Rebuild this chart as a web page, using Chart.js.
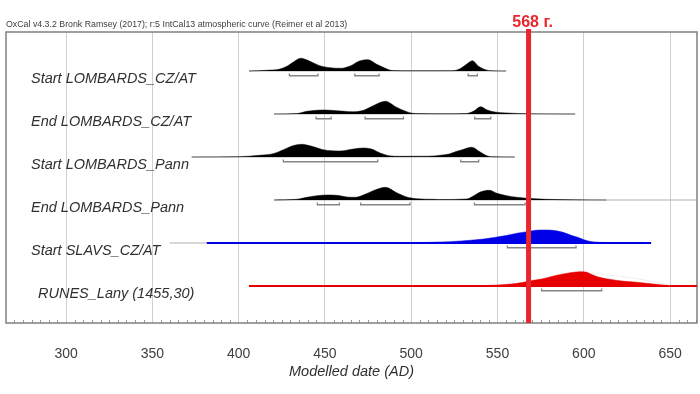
<!DOCTYPE html>
<html>
<head>
<meta charset="utf-8">
<script src="https://cdn.jsdelivr.net/npm/chart.js@4.4.1/dist/chart.umd.min.js"></script>
<style>
  html, body { margin: 0; padding: 0; background: #fff; }
  #wrap { width: 700px; height: 394px; }
</style>
</head>
<body>
<div id="wrap"><canvas id="chart" width="700" height="394"></canvas></div>
<script>
// OxCal multiplot of the modelled dates, with the 568 marker

const HEADER = 'OxCal v4.3.2 Bronk Ramsey (2017); r:5 IntCal13 atmospheric curve (Reimer et al 2013)';
const X_TITLE = 'Modelled date (AD)';
const X_TICKS = [300, 350, 400, 450, 500, 550, 600, 650];
const MARKER_YEAR = 568;
const MARKER_LABEL = '568 г.';

const ROW_LABELS = [
    'Start LOMBARDS_CZ/AT',
    'End LOMBARDS_CZ/AT',
    'Start LOMBARDS_Pann',
    'End LOMBARDS_Pann',
    'Start SLAVS_CZ/AT',
    'RUNES_Lany (1455,30)'
];

// Start LOMBARDS_CZ/AT
const startCzSpan = [406, 555];
const startCzYears = [406, 416, 424, 428, 432, 436, 441, 447, 453, 459, 465, 470, 475, 480, 485, 489, 500, 524, 528, 532, 535.5, 539, 543, 546, 555];
const startCzDensity = [0, 0.7, 2, 4.7, 9.3, 12.7, 10, 5.3, 3.3, 2.7, 5.3, 10, 11.3, 6.7, 2.7, 0.5, 0.2, 0.3, 2, 6.7, 10.3, 4.7, 1.3, 0.3, 0];
const startCzRanges = [[429.4, 446], [467.3, 481.4], [533, 538.3]];

// End LOMBARDS_CZ/AT
const endCzSpan = [420.5, 595];
const endCzYears = [420.5, 434, 439.5, 445, 450, 457, 466, 472, 478, 485, 491.5, 497.5, 502, 520, 532, 536, 540.3, 544, 548.5, 555.5, 567, 580, 595];
const endCzDensity = [0, 0.5, 2.7, 3.7, 4, 3.3, 2.3, 3.5, 8.3, 12.7, 6.7, 2.3, 0.5, 0.2, 0.5, 2.7, 7.3, 4, 2, 1, 0.3, 0.1, 0];
const endCzRanges = [[444.9, 453.6], [473.3, 495.5], [536.8, 546.1]];

// Start LOMBARDS_Pann
const startPannSpan = [372.8, 560];
const startPannYears = [372.8, 400, 412, 420, 426, 431, 436.6, 442.4, 449, 458.8, 466.5, 472.3, 477, 482, 487, 493.5, 510, 517, 522, 526, 530, 535, 540, 544.7, 548, 560];
const startPannDensity = [0, 0.3, 1.7, 3.3, 7.3, 11, 12.7, 10.7, 7.3, 6, 8, 9, 8, 4, 1.3, 0.7, 0.8, 1.8, 3, 5.5, 7.5, 9.8, 5, 0.7, 0.2, 0];
const startPannRanges = [[425.9, 480.6], [528.7, 539.1]];

// End LOMBARDS_Pann
const endPannSpan = [420.5, 666];
const endPannYears = [420.5, 433.7, 439.5, 445.3, 451, 456.8, 462.6, 467.5, 473.3, 479, 485, 491.6, 497.4, 503.2, 513, 517, 532, 536, 540, 545.3, 549.6, 555.4, 561.2, 567, 578.6, 594, 613];
const endPannDensity = [0, 0.7, 2.7, 4.3, 5, 4.7, 3, 2.7, 5.7, 10, 12.7, 7.3, 3, 1.3, 0.7, 0.5, 1, 4, 8, 9.7, 6.7, 4.3, 2.7, 1.7, 0.7, 0.2, 0];
const endPannRanges = [[445.6, 458.4], [470.7, 499.3], [536.6, 566]];

// Start SLAVS_CZ/AT
const slavsLead = [360, 381.5];
const slavsSpan = [381.5, 639];
const slavsYears = [460, 500, 522, 536, 542, 548, 555, 562, 567, 572, 577, 583, 588, 593, 596, 600, 604, 608, 615, 625];
const slavsDensity = [0, 0.4, 1.3, 3, 4, 5.5, 7.5, 10, 11.3, 12.7, 13, 12.5, 10.7, 7.5, 6, 3.3, 1.5, 0.8, 0.3, 0];
const slavsRanges = [[555.7, 595.5]];

// RUNES_Lany (1455,30)
const runesSpan = [406, 666];
const runesYears = [530, 540, 550, 558, 565, 570, 575.6, 582, 588, 593, 598, 601, 604, 607.5, 611, 615, 622, 629, 636, 642, 650, 656];
const runesDensity = [0, 0.3, 1, 2, 3.7, 5.5, 7, 9.8, 12, 13.5, 14.3, 14, 12, 9.5, 8, 6.7, 5, 4, 2.8, 1.7, 0.3, 0];
const runesOutlineYears = [601, 606, 612, 620, 630, 640, 650];
const runesOutlineDensity = [14, 12.5, 11.5, 10, 7.5, 4.5, 0.7];
const runesRanges = [[575.6, 610.4]];

// どの行も同じ高さ(px)で描く
const PX_PER_ROW = 43;
const X_MIN = 265.2;
const X_MAX = 665.6;
const Y_MIN = 0.093;
const Y_MAX = 6.86;

const BLACK = '#000000';
const BLUE = '#0000e6';
const RED = '#e60000';
const MARKER_RED = '#e8262b';
const GREY_LINE = '#b0b0b0';
const RANGE_GREY = '#858585';
const FONT = '"Liberation Sans", Arial, sans-serif';

function spanDataset(row, span, color, width) {
    return {
        data: [{ x: span[0], y: row }, { x: span[1], y: row }],
        borderColor: color,
        borderWidth: width,
        pointRadius: 0,
        fill: false
    };
}

function densityDataset(row, years, density, color) {
    return {
        data: years.map((x, i) => ({ x: x, y: row - density[i] / PX_PER_ROW })),
        backgroundColor: color,
        borderColor: color,
        borderWidth: 0.5,
        pointRadius: 0,
        cubicInterpolationMode: 'monotone',
        fill: { value: row }
    };
}

function rangeDatasets(row, ranges) {
    return ranges.map(r => ({
        data: [
            { x: r[0], y: row + 0.06 },
            { x: r[0], y: row + 0.11 },
            { x: r[1], y: row + 0.11 },
            { x: r[1], y: row + 0.06 }
        ],
        borderColor: RANGE_GREY,
        borderWidth: 1.3,
        pointRadius: 0,
        fill: false
    }));
}

const datasets = [
    // 568年の赤い縦線(一番上に描く)
    {
        data: [{ x: MARKER_YEAR, y: Y_MIN - 0.07 }, { x: MARKER_YEAR, y: Y_MAX }],
        borderColor: MARKER_RED,
        borderWidth: 5,
        pointRadius: 0,
        fill: false,
        clip: false
    },
    ...rangeDatasets(1, startCzRanges),
    ...rangeDatasets(2, endCzRanges),
    ...rangeDatasets(3, startPannRanges),
    ...rangeDatasets(4, endPannRanges),
    ...rangeDatasets(5, slavsRanges),
    ...rangeDatasets(6, runesRanges),
    densityDataset(1, startCzYears, startCzDensity, BLACK),
    densityDataset(2, endCzYears, endCzDensity, BLACK),
    densityDataset(3, startPannYears, startPannDensity, BLACK),
    densityDataset(4, endPannYears, endPannDensity, BLACK),
    densityDataset(5, slavsYears, slavsDensity, BLUE),
    densityDataset(6, runesYears, runesDensity, RED),
    {
        data: runesOutlineYears.map((x, i) => ({ x: x, y: 6 - runesOutlineDensity[i] / PX_PER_ROW })),
        borderColor: '#efefef',
        borderWidth: 1,
        pointRadius: 0,
        cubicInterpolationMode: 'monotone',
        fill: false
    },
    spanDataset(1, startCzSpan, GREY_LINE, 1),
    spanDataset(2, endCzSpan, GREY_LINE, 1),
    spanDataset(3, startPannSpan, GREY_LINE, 1),
    spanDataset(4, endPannSpan, GREY_LINE, 1),
    spanDataset(5, slavsLead, GREY_LINE, 1),
    spanDataset(5, slavsSpan, BLUE, 2),
    spanDataset(6, runesSpan, RED, 2)
];

// 枠・目盛り・ラベルを描くプラグイン
const oxcalDecor = {
    id: 'oxcalDecor',
    beforeDatasetsDraw(chart) {
        const { ctx, chartArea, scales } = chart;
        ctx.save();
        // 5年ごとの小目盛り
        ctx.strokeStyle = '#9a9a9a';
        ctx.lineWidth = 1;
        for (let v = 270; v < X_MAX; v += 5) {
            if (v % 50 === 0) continue;
            const px = Math.round(scales.x.getPixelForValue(v)) + 0.5;
            ctx.beginPath();
            ctx.moveTo(px, chartArea.bottom);
            ctx.lineTo(px, chartArea.bottom - 3);
            ctx.stroke();
        }
        // 枠線
        ctx.strokeStyle = '#808080';
        ctx.lineWidth = 1.5;
        ctx.strokeRect(chartArea.left, chartArea.top, chartArea.right - chartArea.left, chartArea.bottom - chartArea.top);
        ctx.restore();
    },
    afterDraw(chart) {
        const { ctx, chartArea, scales } = chart;
        ctx.save();
        // ヘッダー
        ctx.fillStyle = '#404040';
        ctx.font = '8.8px ' + FONT;
        ctx.textBaseline = 'alphabetic';
        ctx.textAlign = 'left';
        ctx.fillText(HEADER, chartArea.left, chartArea.top - 5);
        // 568 г.
        ctx.fillStyle = MARKER_RED;
        ctx.font = 'bold 16px ' + FONT;
        ctx.textAlign = 'center';
        ctx.fillText(MARKER_LABEL, scales.x.getPixelForValue(MARKER_YEAR) + 4, chartArea.top - 5);
        // 行ラベル
        ctx.fillStyle = '#303030';
        ctx.font = 'italic 14.5px ' + FONT;
        ctx.textAlign = 'left';
        ROW_LABELS.forEach((label, i) => {
            const indent = i === ROW_LABELS.length - 1 ? 7 : 0;
            ctx.fillText(label, chartArea.left + 25 + indent, scales.y.getPixelForValue(i + 1) + 12.3);
        });
        ctx.restore();
    }
};

new Chart(document.getElementById('chart'), {
    type: 'line',
    data: { datasets: datasets },
    options: {
        responsive: false,
        animation: false,
        layout: { padding: { left: 6, right: 3, top: 32, bottom: 0 } },
        plugins: {
            legend: { display: false },
            tooltip: { enabled: false }
        },
        scales: {
            x: {
                type: 'linear',
                min: X_MIN,
                max: X_MAX,
                afterBuildTicks: scale => {
                    scale.ticks = X_TICKS.map(v => ({ value: v }));
                },
                afterFit: scale => {
                    // 軸の高さと左右の余白を固定する
                    scale.height = 71;
                    scale.paddingLeft = 0;
                    scale.paddingRight = 0;
                },
                ticks: {
                    includeBounds: false,
                    maxRotation: 0,
                    padding: 23,
                    color: '#404040',
                    font: { family: FONT, size: 14 }
                },
                grid: { color: '#cfcfcf', lineWidth: 1, drawTicks: false },
                border: { display: false },
                title: {
                    display: true,
                    text: X_TITLE,
                    color: '#303030',
                    padding: { top: 0, bottom: 13 },
                    font: { family: FONT, size: 14.5, style: 'italic' }
                }
            },
            y: {
                type: 'linear',
                display: false,
                reverse: true,
                min: Y_MIN,
                max: Y_MAX
            }
        }
    },
    plugins: [oxcalDecor]
});
</script>
</body>
</html>
